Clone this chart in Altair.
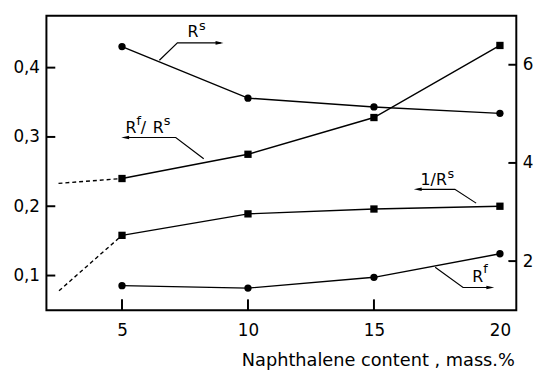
import altair as alt
import pandas as pd

# ---- data ----
content = [5, 10, 15, 20]
rs_vals = [6.37, 5.32, 5.14, 5.01]          # R^s, right axis
rf_vals = [1.50, 1.45, 1.67, 2.15]          # R^f, right axis
rfrs_vals = [0.240, 0.275, 0.328, 0.432]    # R^f/R^s, left axis
invrs_vals = [0.158, 0.189, 0.196, 0.200]   # 1/R^s, left axis

rfrs_ext_x = [2.48, 5]
rfrs_ext_y = [0.233, 0.240]
invrs_ext_x = [2.5, 5]
invrs_ext_y = [0.078, 0.158]

left_ticks = [0.1, 0.2, 0.3, 0.4]
right_ticks = [2, 4, 6]
x_ticks = [5, 10, 15, 20]
x_minor_ticks = [5, 10, 15]

X_DOMAIN = [2, 20.65]
YL_DOMAIN = [0.05, 0.475]
YR_DOMAIN = [1, 7]

# annotation leader lines (data coords, left axis units)
lead_id = ["rs", "rs", "rs", "q", "q", "q", "inv", "inv", "inv", "rf", "rf", "rf"]
lead_x = [6.484, 7.199, 8.92, 8.243, 7.133, 5.127, 19.056, 18.212, 16.738, 17.430, 18.536, 19.631]
lead_y = [0.4106, 0.4357, 0.4357, 0.2685, 0.2992, 0.2992, 0.2045, 0.2244, 0.2244, 0.1121, 0.0827, 0.0827]
lead_ord = [0, 1, 2, 0, 1, 2, 0, 1, 2, 0, 1, 2]

arrow_x = [8.869, 5.127, 16.738, 19.619]
arrow_y = [0.4357, 0.2992, 0.2244, 0.0827]
arrow_dir = ["right", "left", "left", "right"]

lab_text = ["R", "s", "R", "f", "/", "R", "s", "1/R", "s", "R", "f"]
lab_x = [7.60, 8.06, 5.14, 5.58, 5.74, 6.22, 6.66, 16.85, 17.92, 18.90, 19.34]
lab_y = [0.4437, 0.4537, 0.3059, 0.3172, 0.3059, 0.3059, 0.3172, 0.2305, 0.2405, 0.0908, 0.1040]
lab_size = [16, 13, 16, 13, 16, 16, 13, 16, 13, 16, 13]

FONT = "DejaVu Sans"

# ---- tables ----
df_rs = pd.DataFrame({"x": content, "y": rs_vals})
df_rf = pd.DataFrame({"x": content, "y": rf_vals})
df_q = pd.DataFrame({"x": content, "y": rfrs_vals})
df_inv = pd.DataFrame({"x": content, "y": invrs_vals})
df_ext = pd.DataFrame({
    "x": rfrs_ext_x + invrs_ext_x,
    "y": rfrs_ext_y + invrs_ext_y,
    "s": ["q", "q", "inv", "inv"],
})
df_lead = pd.DataFrame({"x": lead_x, "y": lead_y, "id": lead_id, "o": lead_ord})
df_arrow = pd.DataFrame({"x": arrow_x, "y": arrow_y, "d": arrow_dir})
df_lab = pd.DataFrame({"x": lab_x, "y": lab_y, "t": lab_text, "fs": lab_size})
df_lt = pd.DataFrame({"y": left_ticks})
df_rt = pd.DataFrame({"y": right_ticks})
df_xt = pd.DataFrame({"x": x_minor_ticks})

xscale = alt.Scale(domain=X_DOMAIN, nice=False, zero=False)
ylscale = alt.Scale(domain=YL_DOMAIN, nice=False, zero=False)
yrscale = alt.Scale(domain=YR_DOMAIN, nice=False, zero=False)

xaxis = alt.Axis(
    values=x_ticks, ticks=False, domain=False, grid=False,
    labelFontSize=17, labelFont=FONT, labelColor="black", labelPadding=13,
    title="Naphthalene content , mass.%", titleFontSize=18, titleFont=FONT,
    titleFontWeight="normal", titleColor="black", titleAnchor="end",
    titleAlign="right", titleX=475, titleY=56, titleBaseline="alphabetic",
)
ylaxis = alt.Axis(
    values=left_ticks, ticks=False, domain=False, grid=False, title=None,
    labelFontSize=17, labelFont=FONT, labelColor="black", labelPadding=7,
    labelExpr="replace(format(datum.value, '.1f'), '.', ',')",
)
yraxis = alt.Axis(
    values=right_ticks, ticks=False, domain=False, grid=False, title=None,
    orient="right", labelFontSize=17, labelFont=FONT, labelColor="black",
    labelPadding=6,
)

X = alt.X("x:Q", scale=xscale, axis=xaxis)
YL = alt.Y("y:Q", scale=ylscale, axis=ylaxis)
YR = alt.Y("y:Q", scale=yrscale, axis=yraxis)

LW = 1.4

# left-axis group
left_tick_marks = alt.Chart(df_lt).mark_rule(color="black", strokeWidth=2).encode(
    y=YL, x=alt.value(0), x2=alt.value(9))
bottom_tick_marks = alt.Chart(df_xt).mark_rule(color="black", strokeWidth=2).encode(
    x=X, y=alt.value(288), y2=alt.value(299))
q_line = alt.Chart(df_q).mark_line(color="black", strokeWidth=LW).encode(x=X, y=YL)
q_pts = alt.Chart(df_q).mark_point(shape="square", filled=True, size=55, color="black", opacity=1).encode(x=X, y=YL)
inv_line = alt.Chart(df_inv).mark_line(color="black", strokeWidth=LW).encode(x=X, y=YL)
inv_pts = alt.Chart(df_inv).mark_point(shape="square", filled=True, size=55, color="black", opacity=1).encode(x=X, y=YL)
ext_lines = alt.Chart(df_ext).mark_line(color="black", strokeWidth=LW, strokeDash=[4, 3]).encode(
    x=X, y=YL, detail="s:N")
leaders = alt.Chart(df_lead).mark_line(color="black", strokeWidth=1.2).encode(
    x=X, y=YL, detail="id:N", order="o:Q")
arrows_r = alt.Chart(df_arrow[df_arrow.d == "right"]).mark_point(
    shape="M-1,-0.45L1,0L-1,0.45Z", filled=True, size=64, color="black", opacity=1).encode(x=X, y=YL)
arrows_l = alt.Chart(df_arrow[df_arrow.d == "left"]).mark_point(
    shape="M1,-0.45L-1,0L1,0.45Z", filled=True, size=64, color="black", opacity=1).encode(x=X, y=YL)
labels = alt.Chart(df_lab).mark_text(
    align="left", baseline="alphabetic", font=FONT, color="black").encode(
    x=X, y=YL, text="t:N", size=alt.Size("fs:Q", scale=None))

left_group = alt.layer(
    left_tick_marks, bottom_tick_marks, ext_lines, q_line, q_pts, inv_line, inv_pts,
    leaders, arrows_r, arrows_l, labels,
)

# right-axis group
right_tick_marks = alt.Chart(df_rt).mark_rule(color="black", strokeWidth=2).encode(
    y=YR, x=alt.value(469), x2=alt.value(477))
rs_line = alt.Chart(df_rs).mark_line(color="black", strokeWidth=LW).encode(x=X, y=YR)
rs_pts = alt.Chart(df_rs).mark_point(shape="circle", filled=True, size=55, color="black", opacity=1).encode(x=X, y=YR)
rf_line = alt.Chart(df_rf).mark_line(color="black", strokeWidth=LW).encode(x=X, y=YR)
rf_pts = alt.Chart(df_rf).mark_point(shape="circle", filled=True, size=55, color="black", opacity=1).encode(x=X, y=YR)

right_group = alt.layer(right_tick_marks, rs_line, rs_pts, rf_line, rf_pts)

chart = alt.layer(left_group, right_group).resolve_scale(y="independent").properties(
    width=477, height=299,
    padding={"left": 39, "top": 5, "right": 20, "bottom": 62},
    autosize=alt.AutoSizeParams(type="none"),
    background="white",
).configure_view(stroke="black", strokeWidth=2)

chart.save("out.html", embed_options={"renderer": "svg", "actions": False})
